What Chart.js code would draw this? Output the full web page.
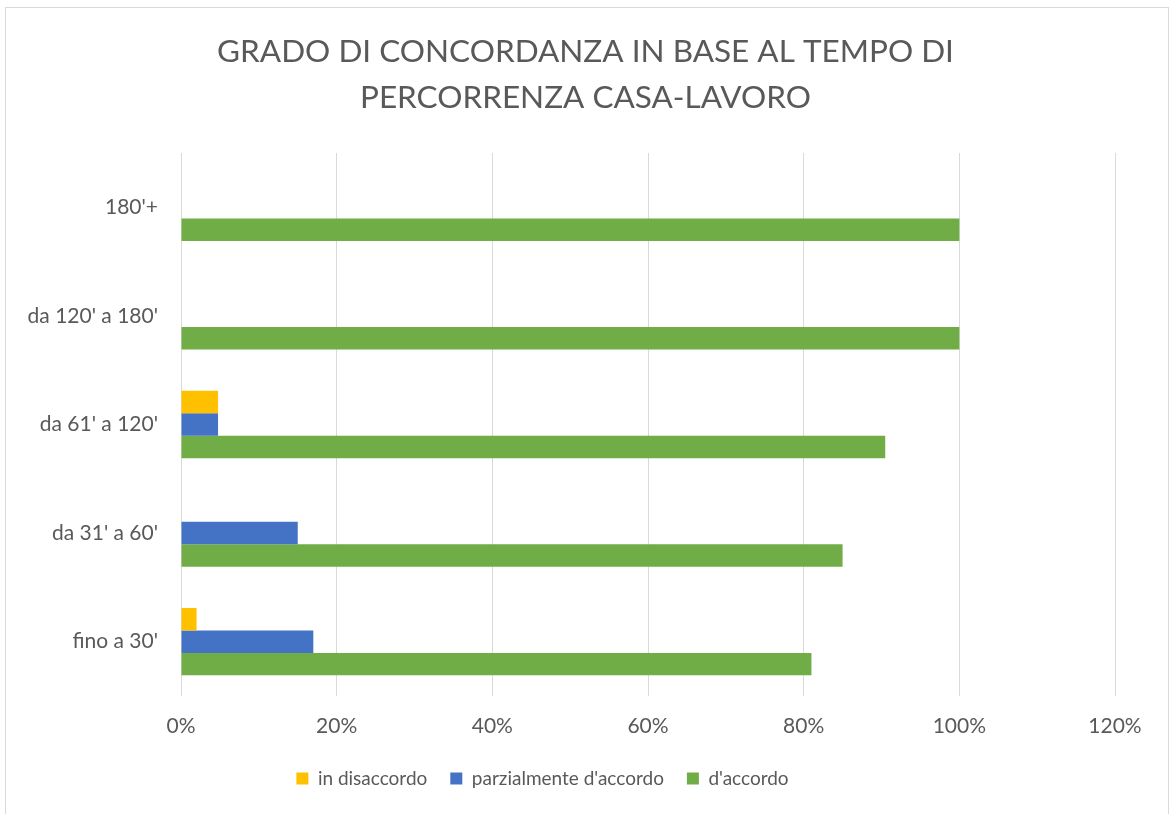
<!DOCTYPE html>
<html>
<head>
<meta charset="utf-8">
<script src="https://cdn.jsdelivr.net/npm/chart.js@4/dist/chart.umd.min.js"></script>
<style>
    html, body { margin: 0; padding: 0; background: #fff; }
    #wrap { position: relative; width: 1171px; height: 814px; }
    #frame { position: absolute; left: 5px; top: 7px; width: 1164px; height: 820px; border: 1px solid #d9d9d9; box-sizing: border-box; }
    canvas { position: absolute; left: 0; top: 0; }
</style>
</head>
<body>
<div id="wrap">
    <div id="frame"></div>
    <canvas id="concordanzaChart" width="1171" height="814"></canvas>
</div>
<script>
// Data (percentages)
const categories = ["180'+", "da 120' a 180'", "da 61' a 120'", "da 31' a 60'", "fino a 30'"];
const inDisaccordo = [0, 0, 4.76, 0, 2];
const parzialmente = [0, 0, 4.76, 15, 17];
const dAccordo = [100, 100, 90.48, 85, 81];
const xTicks = [0, 20, 40, 60, 80, 100, 120];

const textColor = '#595959';
const fontFamily = 'Lato, "Open Sans", sans-serif';

// The original legend sits a bit left of the page centre
const legendShift = {
    id: 'legendShift',
    afterLayout: function(chart) {
        if (chart.legend) {
            chart.legend.left -= 43;
            chart.legend.right -= 43;
        }
    }
};

const ctx = document.getElementById('concordanzaChart').getContext('2d');
new Chart(ctx, {
    type: 'bar',
    data: {
        labels: categories,
        datasets: [
            { label: 'in disaccordo', data: inDisaccordo, backgroundColor: '#FFC000' },
            { label: "parzialmente d'accordo", data: parzialmente, backgroundColor: '#4472C4' },
            { label: "d'accordo", data: dAccordo, backgroundColor: '#70AD47' }
        ]
    },
    options: {
        indexAxis: 'y',
        responsive: false,
        animation: false,
        layout: { padding: { left: 0, right: 0, top: 0, bottom: 16 } },
        datasets: {
            bar: { categoryPercentage: 0.62, barPercentage: 1 }
        },
        plugins: {
            title: {
                display: true,
                text: ['GRADO DI CONCORDANZA IN BASE AL TEMPO DI', 'PERCORRENZA CASA-LAVORO'],
                color: textColor,
                font: { family: fontFamily, size: 31.5, weight: 'normal', lineHeight: 1.46 },
                padding: { top: 29, bottom: 32 }
            },
            legend: {
                position: 'bottom',
                labels: {
                    color: textColor,
                    font: { family: fontFamily, size: 19 },
                    boxWidth: 12,
                    boxHeight: 12,
                    padding: 23
                }
            },
            tooltip: { enabled: false }
        },
        scales: {
            x: {
                min: 0,
                max: 120,
                afterBuildTicks: function(scale) {
                    scale.ticks = xTicks.map(v => ({ value: v }));
                },
                afterFit: function(scale) {
                    scale.height = 50;
                    // leave the empty strip on the right like the original
                    scale.paddingRight = 56;
                },
                ticks: {
                    color: textColor,
                    font: { family: fontFamily, size: 21 },
                    padding: 18,
                    callback: function(value) { return value + '%'; }
                },
                grid: { color: '#D9D9D9', lineWidth: 1, drawTicks: false },
                border: { display: false }
            },
            y: {
                afterFit: function(scale) { scale.width = 181; },
                ticks: {
                    color: textColor,
                    font: { family: fontFamily, size: 21 },
                    padding: 23
                },
                grid: { display: false, drawTicks: false },
                border: { display: false }
            }
        }
    },
    plugins: [legendShift]
});
</script>
</body>
</html>
